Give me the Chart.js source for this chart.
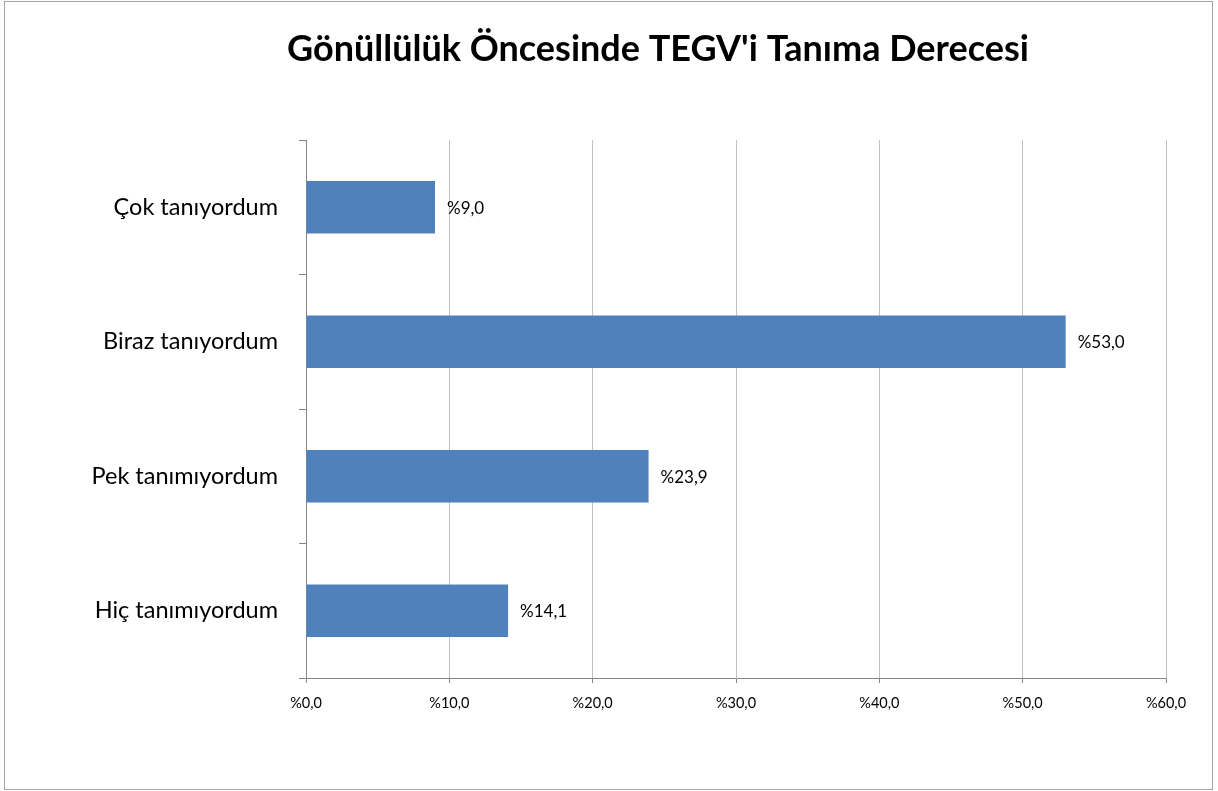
<!DOCTYPE html>
<html>
<head>
<meta charset="utf-8">
<script src="https://cdn.jsdelivr.net/npm/chart.js@4"></script>
<style>
  html, body { margin: 0; padding: 0; background: #fff; }
  #wrap { width: 1218px; height: 791px; }
</style>
</head>
<body>
<div id="wrap"><canvas id="chart" width="1218" height="791"></canvas></div>
<script>
// veriler
const kategoriler = ["Çok tanıyordum", "Biraz tanıyordum", "Pek tanımıyordum", "Hiç tanımıyordum"];
const yuzdeler = [9.0, 53.0, 23.9, 14.1];
const eksenDegerleri = [0, 10, 20, 30, 40, 50, 60];
const baslik = "Gönüllülük Öncesinde TEGV'i Tanıma Derecesi";

const FONT = "Lato, 'Open Sans', sans-serif";

function yuzdeYaz(v) {
  return "%" + Number(v).toFixed(1).replace(".", ",");
}

// dış çerçeve + başlık
const cerceve = {
  id: "cerceve",
  beforeDraw(chart) {
    const ctx = chart.ctx;
    ctx.save();
    ctx.fillStyle = "#fff";
    ctx.fillRect(0, 0, chart.width, chart.height);
    ctx.strokeStyle = "#a6a6a6";
    ctx.lineWidth = 1;
    ctx.strokeRect(4.5, 1.5, 1208, 788);
    ctx.fillStyle = "#000";
    ctx.font = "bold 36px " + FONT;
    ctx.textAlign = "center";
    ctx.textBaseline = "alphabetic";
    ctx.fillText(baslik, 658, 61);
    ctx.restore();
  }
};

// çubukların ucundaki etiketler
const degerEtiketleri = {
  id: "degerEtiketleri",
  afterDatasetsDraw(chart) {
    const ctx = chart.ctx;
    const meta = chart.getDatasetMeta(0);
    ctx.save();
    ctx.font = "17px " + FONT;
    ctx.fillStyle = "#000";
    ctx.textAlign = "left";
    ctx.textBaseline = "middle";
    meta.data.forEach(function (bar, i) {
      ctx.fillText(yuzdeYaz(yuzdeler[i]), bar.x + 12, bar.y + 1);
    });
    ctx.restore();
  }
};

const ctx = document.getElementById("chart").getContext("2d");
new Chart(ctx, {
  type: "bar",
  data: {
    labels: kategoriler,
    datasets: [{
      data: yuzdeler,
      backgroundColor: "#4F81BD",
      borderWidth: 0,
      barPercentage: 0.39,
      categoryPercentage: 1.0
    }]
  },
  options: {
    indexAxis: "y",
    responsive: false,
    animation: false,
    layout: { padding: { left: 0, right: 52, top: 140, bottom: 0 } },
    plugins: {
      legend: { display: false },
      tooltip: { enabled: false },
      title: { display: false }
    },
    scales: {
      x: {
        min: eksenDegerleri[0],
        max: eksenDegerleri[eksenDegerleri.length - 1],
        afterBuildTicks(axis) {
          axis.ticks = eksenDegerleri.map(v => ({ value: v }));
        },
        afterFit(axis) { axis.height = 113; },
        ticks: {
          color: "#000",
          font: { family: FONT, size: 14.5 },
          padding: 12,
          maxRotation: 0,
          callback: v => yuzdeYaz(v)
        },
        grid: { color: "#c0c0c0", tickColor: "#868686", tickLength: 5 },
        border: { color: "#868686" }
      },
      y: {
        afterFit(axis) { axis.width = 306; },
        ticks: {
          color: "#000",
          font: { family: FONT, size: 23.5 },
          padding: 21
        },
        grid: { offset: true, drawOnChartArea: false, tickColor: "#868686", tickLength: 7 },
        border: { color: "#868686" }
      }
    }
  },
  plugins: [cerceve, degerEtiketleri]
});
</script>
</body>
</html>
